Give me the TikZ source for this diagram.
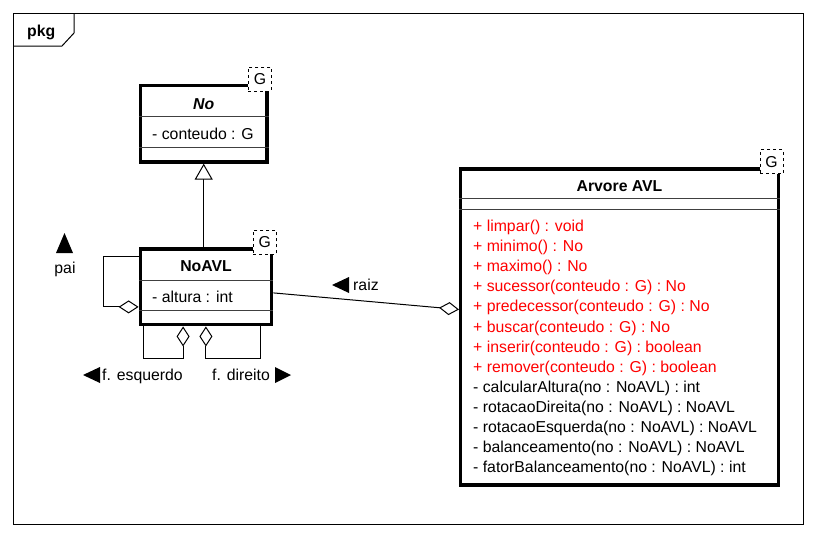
\documentclass[tikz,border=0pt]{standalone}
\usepackage{fontspec}
\setmainfont{Liberation Sans}
\usetikzlibrary{arrows.meta}

\def\umlfont{\fontsize{15.8}{19}\selectfont}

\tikzset{
  classbox/.style={draw, line width=3.4pt, fill=white, inner sep=0pt},
  sepline/.style={line width=0.9pt, black!75},
  tmplbox/.style={draw, dashed, fill=white, line width=0.8pt, inner sep=0pt,
    minimum width=23pt, minimum height=24pt, font=\umlfont},
  umltext/.style={inner sep=0pt, font=\umlfont},
  aggr/.style={line width=1pt, -{Diamond[fill=white, length=20pt, width=13pt]}},
  gen/.style={line width=1pt, -{Triangle[fill=white, length=16pt, width=18pt]}},
  dirmark/.style={fill=black},
}

\begin{document}
\begin{tikzpicture}[x=1pt, y=-1pt]
\useasboundingbox (0,0) rectangle (816,538);

% === Package frame ===
\draw[line width=1pt] (13,13) rectangle (803,524);
\draw[line width=1pt] (13,46) -- (62,46) -- (74,33) -- (74,13);
\node[umltext, font=\umlfont\bfseries, anchor=base west] (pkg) at (27,36.5) {pkg};

% === Class No ===
\node[classbox, minimum width=126.7pt, minimum height=76.3pt] (No) at (203.7,123.8) {};
\draw[sepline] (No.west |- 0,116.7) -- (No.east |- 0,116.7);
\draw[sepline] (No.west |- 0,147) -- (No.east |- 0,147);
\node[umltext, font=\umlfont\bfseries\itshape, anchor=base] (No-title) at (203.7,109) {No};
\node[umltext, anchor=base west] (No-attr) at (152,139) {- conteudo : G};
\node[tmplbox] (No-G) at ([xshift=-8.8pt, yshift=5pt]No.north east) {G};

% === Class NoAVL ===
\node[classbox, minimum width=131.4pt, minimum height=75.7pt] (NoAVL) at (206,286.9) {};
\draw[sepline] (NoAVL.west |- 0,280) -- (NoAVL.east |- 0,280);
\draw[sepline] (NoAVL.west |- 0,310) -- (NoAVL.east |- 0,310);
\node[umltext, font=\umlfont\bfseries, anchor=base] (NoAVL-title) at (206,271.7) {NoAVL};
\node[umltext, anchor=base west] (NoAVL-attr) at (152,302.3) {- altura : int};
\node[tmplbox] (NoAVL-G) at ([xshift=-8.6pt, yshift=5pt]NoAVL.north east) {G};

% === Class Arvore AVL ===
\node[classbox, minimum width=317.6pt, minimum height=316pt] (Arvore) at (619.5,327) {};
\draw[sepline] (Arvore.west |- 0,198.3) -- (Arvore.east |- 0,198.3);
\draw[sepline] (Arvore.west |- 0,209.3) -- (Arvore.east |- 0,209.3);
\node[umltext, font=\umlfont\bfseries, anchor=base] (Arvore-title) at (619.5,191.7) {Arvore AVL};
\node[tmplbox] (Arvore-G) at ([xshift=-8.5pt, yshift=5.5pt]Arvore.north east) {G};

% public methods
\foreach \m [count=\i from 0] in {{+ limpar() : void}, {+ minimo() : No}, {+ maximo() : No},
    {+ sucessor(conteudo : G) : No}, {+ predecessor(conteudo : G) : No},
    {+ buscar(conteudo : G) : No}, {+ inserir(conteudo : G) : boolean},
    {+ remover(conteudo : G) : boolean}}{
  \node[umltext, text=red, anchor=base west] (Arvore-pub-\i) at (473,231.5+20.1*\i) {\m};
}
% private methods
\foreach \m [count=\i from 8] in {{- calcularAltura(no : NoAVL) : int},
    {- rotacaoDireita(no : NoAVL) : NoAVL}, {- rotacaoEsquerda(no : NoAVL) : NoAVL},
    {- balanceamento(no : NoAVL) : NoAVL}, {- fatorBalanceamento(no : NoAVL) : int}}{
  \node[umltext, anchor=base west] (Arvore-priv-\i) at (473,231.5+20.1*\i) {\m};
}

% === Connections ===
% NoAVL -> No
\draw[gen] (NoAVL.north -| No.south) -- (No.south);

% raiz
\draw[aggr] ([yshift=-6pt]NoAVL.east) -- ([yshift=17.5pt]Arvore.west);

% pai
\draw[aggr] ([yshift=30pt]NoAVL.west) -- ++(-35,0) |- ([yshift=-20pt]NoAVL.west);

% filhos
\draw[aggr] ([xshift=4.5pt]NoAVL.south west) -- ++(0,32) -| ([xshift=44.5pt]NoAVL.south west);
\draw[aggr] ([xshift=-12.5pt]NoAVL.south east) -- ++(0,32) -| ([xshift=-67.5pt]NoAVL.south east);

% === Role labels ===
\node[umltext, anchor=base] (pai) at (65,273.3) {pai};
\fill[dirmark] (56,253) -- (73,253) -- (64.5,233) -- cycle;

\node[umltext, anchor=base west] (fesq) at (102,380) {f. esquerdo};
\fill[dirmark] (100,367) -- (100,383) -- (83,375) -- cycle;

\node[umltext, anchor=base west] (fdir) at (212,380) {f. direito};
\fill[dirmark] (275,367) -- (275,383) -- (291,375) -- cycle;

\node[umltext, anchor=base west] (raiz) at (353,290.7) {raiz};
\fill[dirmark] (349,277) -- (349,293) -- (332,285) -- cycle;

\end{tikzpicture}
\end{document}
